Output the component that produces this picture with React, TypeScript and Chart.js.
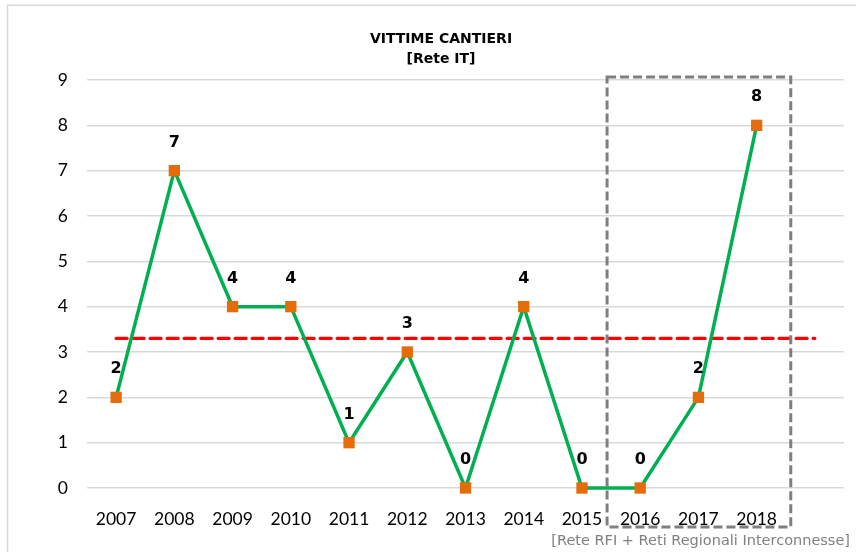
import React, { useEffect, useRef } from "react";
import { Chart, registerables } from "chart.js";

Chart.register(...registerables);

// ---- data ----
const years = ["2007", "2008", "2009", "2010", "2011", "2012", "2013", "2014", "2015", "2016", "2017", "2018", ""];
const victims: (number | null)[] = [2, 7, 4, 4, 1, 3, 0, 4, 0, 0, 2, 8, null];
const averageValue = 3.3;
const average = years.map(() => averageValue);
const yMin = 0;
const yMax = 9;
const titleLines = ["VITTIME CANTIERI", "[Rete IT]"];
const footnote = "[Rete RFI + Reti Regionali Interconnesse]";
const highlightFrom = 9; // index of 2016
const highlightTo = 11; // index of 2018

const FONT = "Lato, 'DejaVu Sans', sans-serif";
const WIDE_FONT = "'DejaVu Sans', sans-serif";

const decorPlugin = {
  id: "decor",
  beforeDraw(chart: any) {
    const ctx = chart.ctx;
    ctx.save();
    ctx.fillStyle = "#ffffff";
    ctx.fillRect(0, 0, chart.width, chart.height);
    ctx.strokeStyle = "#d9d9d9";
    ctx.lineWidth = 1.5;
    ctx.beginPath();
    ctx.moveTo(7.5, chart.height + 10);
    ctx.lineTo(7.5, 5.25);
    ctx.lineTo(chart.width + 10, 5.25);
    ctx.stroke();
    ctx.restore();
  },
  afterDatasetsDraw(chart: any) {
    const ctx = chart.ctx;
    const xs = chart.scales.x;
    const ys = chart.scales.y;
    ctx.save();
    // value labels
    const meta = chart.getDatasetMeta(0);
    ctx.font = `bold 16px ${WIDE_FONT}`;
    ctx.fillStyle = "#000000";
    ctx.textAlign = "center";
    ctx.textBaseline = "middle";
    meta.data.forEach((pt: any, i: number) => {
      const v = victims[i];
      if (v == null) return;
      ctx.fillText(String(v), pt.x, pt.y - 28);
    });
    // highlight box
    const left = (xs.getPixelForValue(highlightFrom - 1) + xs.getPixelForValue(highlightFrom)) / 2 - 4;
    const right = (xs.getPixelForValue(highlightTo) + xs.getPixelForValue(highlightTo + 1)) / 2 + 5;
    const top = ys.getPixelForValue(yMax) - 3;
    const bottom = chart.chartArea.bottom + 39;
    ctx.setLineDash([9, 4]);
    ctx.strokeStyle = "#7f7f7f";
    ctx.lineWidth = 3;
    ctx.strokeRect(left, top, right - left, bottom - top);
    ctx.setLineDash([]);
    // title
    ctx.font = `bold 14px ${WIDE_FONT}`;
    ctx.fillStyle = "#000000";
    ctx.fillText(titleLines[0], chart.width / 2, 39);
    ctx.fillText(titleLines[1], chart.width / 2, 59);
    // footnote
    ctx.font = `14.5px ${WIDE_FONT}`;
    ctx.fillStyle = "#808080";
    ctx.textAlign = "right";
    ctx.fillText(footnote, 850, 541);
    ctx.restore();
  },
};

export default function App() {
  const canvasRef = useRef<HTMLCanvasElement | null>(null);

  useEffect(() => {
    if (!canvasRef.current) return;
    const chart = new Chart(canvasRef.current, {
      type: "line",
      data: {
        labels: years,
        datasets: [
          {
            label: "Vittime",
            data: victims,
            borderColor: "#00b050",
            borderWidth: 3.5,
            backgroundColor: "#e46c0a",
            pointStyle: "rect",
            pointRadius: 8,
            pointHoverRadius: 8,
            pointBackgroundColor: "#e46c0a",
            pointBorderWidth: 0,
            tension: 0,
            spanGaps: false,
            clip: false,
          },
          {
            label: "Media",
            data: average,
            borderColor: "#ff0000",
            borderWidth: 3.2,
            borderDash: [11, 6],
            borderCapStyle: "round",
            pointRadius: 0,
            tension: 0,
            clip: false,
          },
        ],
      },
      options: {
        responsive: false,
        animation: false,
        devicePixelRatio: 1,
        layout: { padding: { top: 80, right: 38, left: 0, bottom: 0 } },
        plugins: {
          legend: { display: false },
          title: { display: false },
          tooltip: { enabled: false },
        },
        scales: {
          x: {
            offset: true,
            grid: { display: false },
            border: { display: false },
            ticks: {
              color: "#000000",
              font: { family: FONT, size: 17.5 },
              padding: 13,
              maxRotation: 0,
              autoSkip: false,
            },
            afterFit: (s: any) => {
              s.height = 64;
            },
          },
          y: {
            min: yMin,
            max: yMax,
            grid: { color: "#d9d9d9", lineWidth: 1.5, drawTicks: false },
            border: { display: false },
            ticks: {
              stepSize: 1,
              color: "#000000",
              font: { family: FONT, size: 17.5 },
              padding: 19,
            },
            afterFit: (s: any) => {
              s.width = 87;
            },
          },
        },
      },
      plugins: [decorPlugin],
    });
    return () => chart.destroy();
  }, []);

  return (
    <div
      style={{
        position: "absolute",
        left: 0,
        top: 0,
        width: 856,
        height: 552,
        overflow: "hidden",
        background: "#ffffff",
      }}
    >
      <canvas ref={canvasRef} width={882} height={552} style={{ display: "block" }} />
    </div>
  );
}
